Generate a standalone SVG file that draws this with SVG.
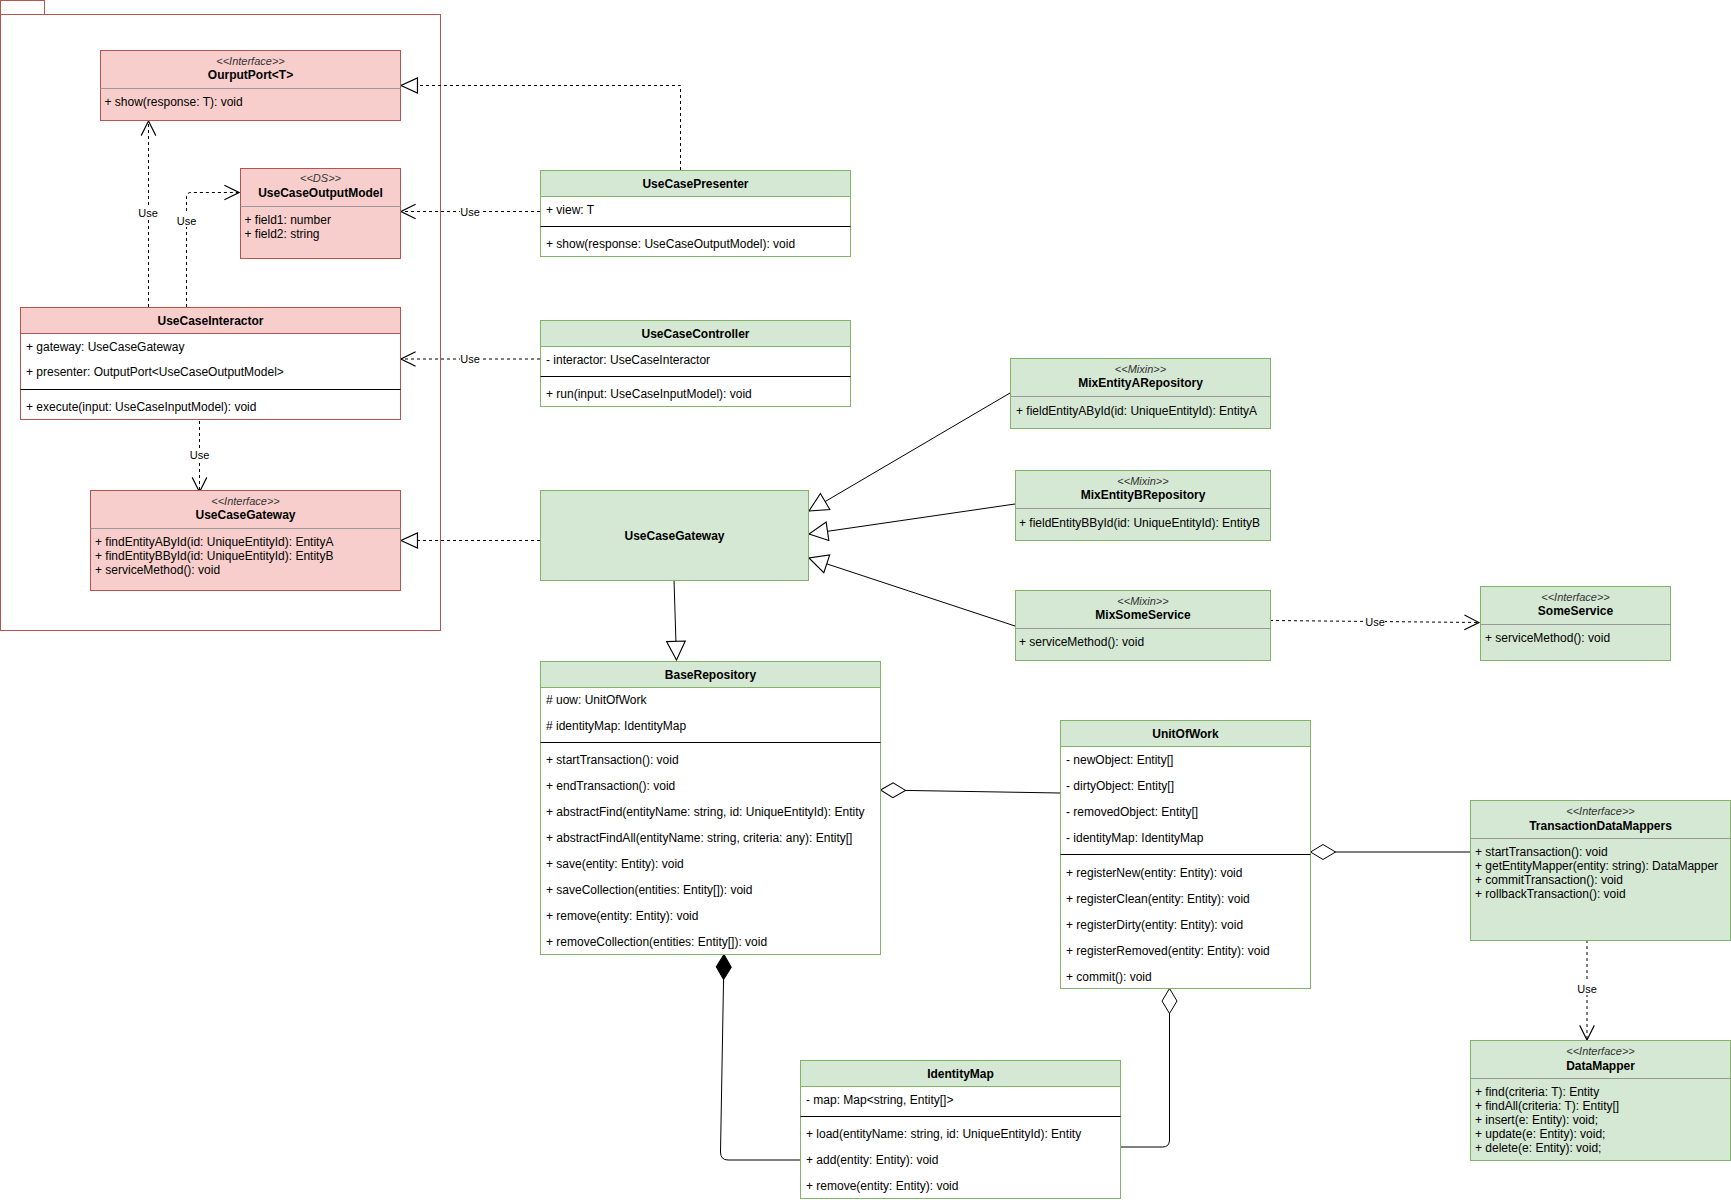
<svg xmlns="http://www.w3.org/2000/svg" width="1731" height="1202" viewBox="0 0 1731 1202">
<style>
text{font-family:"Liberation Sans",Arial,Helvetica,sans-serif;font-size:12px;fill:#000}
.n{font-weight:bold;text-anchor:middle}
.s{font-style:italic;font-size:11px;text-anchor:middle;fill:#333}
.lbl{font-size:11px;text-anchor:middle}
.pink{fill:#f8cecc;stroke:#b85450}
.green{fill:#d5e8d4;stroke:#82b366}
.wr{fill:#fff;stroke:#b85450}
.wg{fill:#fff;stroke:#82b366}
.sep{stroke:#999;stroke-width:1}
.blk{stroke:#000;stroke-width:1}
.ln{fill:none;stroke:#000;stroke-width:1}
.d{stroke-dasharray:3 3}
.lb{fill:#fff}
</style>
<defs>
<marker id="triS" markerUnits="userSpaceOnUse" markerWidth="20" markerHeight="20" viewBox="-16 -8 17 16" refX="0" refY="0" orient="auto"><path d="M0,0 L-14,-6.5 L-14,6.5 Z" fill="#fff" stroke="#000" stroke-dasharray="none"/></marker>
<marker id="triB" markerUnits="userSpaceOnUse" markerWidth="22" markerHeight="22" viewBox="-19 -10 20 20" refX="0" refY="0" orient="auto"><path d="M0,0 L-17,-8.5 L-17,8.5 Z" fill="#fff" stroke="#000" stroke-dasharray="none"/></marker>
<marker id="open" markerUnits="userSpaceOnUse" markerWidth="18" markerHeight="18" viewBox="-15 -8 16 16" refX="0" refY="0" orient="auto"><path d="M-13,-6.5 L0,0 L-13,6.5" fill="none" stroke="#000" stroke-dasharray="none"/></marker>
<marker id="dia" markerUnits="userSpaceOnUse" markerWidth="28" markerHeight="18" viewBox="-1 -9 28 18" refX="0" refY="0" orient="auto"><path d="M0,0 L12.5,-7.5 L25,0 L12.5,7.5 Z" fill="#fff" stroke="#000" stroke-dasharray="none"/></marker>
<marker id="diaF" markerUnits="userSpaceOnUse" markerWidth="28" markerHeight="18" viewBox="-1 -9 28 18" refX="0" refY="0" orient="auto"><path d="M0,0 L12.5,-7.5 L25,0 L12.5,7.5 Z" fill="#000" stroke="#000" stroke-dasharray="none"/></marker>
</defs>
<rect width="1731" height="1202" fill="#fff"/>

<g id="package">
<rect x="0.5" y="0.5" width="44" height="14" fill="#fff" stroke="#b85450"/>
<rect x="0.5" y="14.5" width="440" height="616" fill="#fff" stroke="#b85450"/>
</g>

<g id="connectors">
<path class="ln d" d="M680.5,170 V85.5 H401" marker-end="url(#triS)"/>
<path class="ln d" d="M540,211.5 H401" marker-end="url(#open)"/>
<path class="ln d" d="M540,359 H401" marker-end="url(#open)"/>
<path class="ln d" d="M148.5,307 V121" marker-end="url(#open)"/>
<path class="ln d" d="M186.5,307 V197 Q186.5,192.5 191,192.5 H239" marker-end="url(#open)"/>
<path class="ln d" d="M199.5,415 V492" marker-end="url(#open)"/>
<path class="ln d" d="M540,540.5 H401" marker-end="url(#triS)"/>
<path class="ln" d="M1010,393 L809,511" marker-end="url(#triB)"/>
<path class="ln" d="M1015,504 L809,534" marker-end="url(#triB)"/>
<path class="ln" d="M1015,626 L809,558" marker-end="url(#triB)"/>
<path class="ln d" d="M1270,620.5 L1479,622.5" marker-end="url(#open)"/>
<path class="ln" d="M674,580 L676.5,660" marker-end="url(#triB)"/>
<path class="ln" d="M880.5,790 L1060,793" marker-start="url(#dia)"/>
<path class="ln" d="M1310.5,852 H1470" marker-start="url(#dia)"/>
<path class="ln d" d="M1587,940 V1040" marker-end="url(#open)"/>
<path class="ln" d="M724,954.5 L720.5,1152 Q720.5,1160 728,1160 H800" marker-start="url(#diaF)"/>
<path class="ln" d="M1169.5,988.5 V1140 Q1169.5,1147 1162.5,1147 H1120" marker-start="url(#dia)"/>
<rect class="lb" x="460" y="205" width="20" height="13"/><text class="lbl" x="470" y="215.5">Use</text>
<rect class="lb" x="460" y="352" width="20" height="13"/><text class="lbl" x="470" y="363">Use</text>
<rect class="lb" x="138" y="206" width="20" height="13"/><text class="lbl" x="148" y="217">Use</text>
<rect class="lb" x="176" y="214" width="20" height="13"/><text class="lbl" x="186.5" y="225">Use</text>
<rect class="lb" x="189" y="448" width="20" height="13"/><text class="lbl" x="199.5" y="459">Use</text>
<rect class="lb" x="1366" y="615" width="19" height="13"/><text class="lbl" x="1375" y="625.5">Use</text>
<rect class="lb" x="1577" y="982" width="20" height="13"/><text class="lbl" x="1587" y="993">Use</text>
</g>

<g id="OurputPort">
<rect class="pink" x="100.5" y="50.5" width="300" height="70"/>
<line class="sep" x1="100.5" y1="88.5" x2="400.5" y2="88.5"/>
<text class="s" x="250.5" y="64.5">&lt;&lt;Interface&gt;&gt;</text>
<text class="n" x="250.5" y="78.5">OurputPort&lt;T&gt;</text>
<text x="104.5" y="106">+ show(response: T): void</text>
</g>

<g id="UseCaseOutputModel">
<rect class="pink" x="240.5" y="168.5" width="160" height="90"/>
<line class="sep" x1="240.5" y1="206.5" x2="400.5" y2="206.5"/>
<text class="s" x="320.5" y="182">&lt;&lt;DS&gt;&gt;</text>
<text class="n" x="320.5" y="197">UseCaseOutputModel</text>
<text x="244.5" y="224">+ field1: number</text>
<text x="244.5" y="238">+ field2: string</text>
</g>

<g id="UseCaseInteractor">
<rect class="wr" x="20.5" y="307.5" width="380" height="112"/>
<rect class="pink" x="20.5" y="307.5" width="380" height="26"/>
<text class="n" x="210.5" y="325">UseCaseInteractor</text>
<text x="26" y="350.5">+ gateway: UseCaseGateway</text>
<text x="26" y="376">+ presenter: OutputPort&lt;UseCaseOutputModel&gt;</text>
<line class="blk" x1="20.5" y1="389.5" x2="400.5" y2="389.5"/>
<text x="26" y="410.5">+ execute(input: UseCaseInputModel): void</text>
</g>

<g id="UseCaseGatewayInterface">
<rect class="pink" x="90.5" y="490.5" width="310" height="100"/>
<line class="sep" x1="90.5" y1="528.5" x2="400.5" y2="528.5"/>
<text class="s" x="245.5" y="504.5">&lt;&lt;Interface&gt;&gt;</text>
<text class="n" x="245.5" y="519">UseCaseGateway</text>
<text x="95" y="546">+ findEntityAById(id: UniqueEntityId): EntityA</text>
<text x="95" y="560">+ findEntityBById(id: UniqueEntityId): EntityB</text>
<text x="95" y="574">+ serviceMethod(): void</text>
</g>

<g id="UseCasePresenter">
<rect class="wg" x="540.5" y="170.5" width="310" height="86"/>
<rect class="green" x="540.5" y="170.5" width="310" height="26"/>
<text class="n" x="695.5" y="188">UseCasePresenter</text>
<text x="546" y="214">+ view: T</text>
<line class="blk" x1="540.5" y1="226.5" x2="850.5" y2="226.5"/>
<text x="546" y="247.5">+ show(response: UseCaseOutputModel): void</text>
</g>

<g id="UseCaseController">
<rect class="wg" x="540.5" y="320.5" width="310" height="86"/>
<rect class="green" x="540.5" y="320.5" width="310" height="26"/>
<text class="n" x="695.5" y="338">UseCaseController</text>
<text x="546" y="363.5">- interactor: UseCaseInteractor</text>
<line class="blk" x1="540.5" y1="376.5" x2="850.5" y2="376.5"/>
<text x="546" y="397.5">+ run(input: UseCaseInputModel): void</text>
</g>

<g id="UseCaseGateway">
<rect class="green" x="540.5" y="490.5" width="268" height="90"/>
<text class="n" x="674.5" y="540">UseCaseGateway</text>
</g>

<g id="MixEntityARepository">
<rect class="green" x="1010.5" y="358.5" width="260" height="70"/>
<line class="sep" x1="1010.5" y1="396.5" x2="1270.5" y2="396.5"/>
<text class="s" x="1140.5" y="372.5">&lt;&lt;Mixin&gt;&gt;</text>
<text class="n" x="1140.5" y="387">MixEntityARepository</text>
<text x="1016" y="414.5">+ fieldEntityAById(id: UniqueEntityId): EntityA</text>
</g>

<g id="MixEntityBRepository">
<rect class="green" x="1015.5" y="470.5" width="255" height="70"/>
<line class="sep" x1="1015.5" y1="508.5" x2="1270.5" y2="508.5"/>
<text class="s" x="1143" y="484.5">&lt;&lt;Mixin&gt;&gt;</text>
<text class="n" x="1143" y="499">MixEntityBRepository</text>
<text x="1019" y="526.5">+ fieldEntityBById(id: UniqueEntityId): EntityB</text>
</g>

<g id="MixSomeService">
<rect class="green" x="1015.5" y="590.5" width="255" height="70"/>
<line class="sep" x1="1015.5" y1="628.5" x2="1270.5" y2="628.5"/>
<text class="s" x="1143" y="604.5">&lt;&lt;Mixin&gt;&gt;</text>
<text class="n" x="1143" y="619">MixSomeService</text>
<text x="1019" y="646">+ serviceMethod(): void</text>
</g>

<g id="SomeService">
<rect class="green" x="1480.5" y="586.5" width="190" height="74"/>
<line class="sep" x1="1480.5" y1="624.5" x2="1670.5" y2="624.5"/>
<text class="s" x="1575.5" y="600.5">&lt;&lt;Interface&gt;&gt;</text>
<text class="n" x="1575.5" y="615">SomeService</text>
<text x="1485" y="642">+ serviceMethod(): void</text>
</g>

<g id="BaseRepository">
<rect class="wg" x="540.5" y="661.5" width="340" height="293"/>
<rect class="green" x="540.5" y="661.5" width="340" height="26"/>
<text class="n" x="710.5" y="678.5">BaseRepository</text>
<text x="546" y="704"># uow: UnitOfWork</text>
<text x="546" y="730"># identityMap: IdentityMap</text>
<line class="blk" x1="540.5" y1="742.5" x2="880.5" y2="742.5"/>
<text x="546" y="764">+ startTransaction(): void</text>
<text x="546" y="790">+ endTransaction(): void</text>
<text x="546" y="816">+ abstractFind(entityName: string, id: UniqueEntityId): Entity</text>
<text x="546" y="842">+ abstractFindAll(entityName: string, criteria: any): Entity[]</text>
<text x="546" y="868">+ save(entity: Entity): void</text>
<text x="546" y="894">+ saveCollection(entities: Entity[]): void</text>
<text x="546" y="920">+ remove(entity: Entity): void</text>
<text x="546" y="946">+ removeCollection(entities: Entity[]): void</text>
</g>

<g id="UnitOfWork">
<rect class="wg" x="1060.5" y="720.5" width="250" height="268"/>
<rect class="green" x="1060.5" y="720.5" width="250" height="26"/>
<text class="n" x="1185.5" y="738">UnitOfWork</text>
<text x="1066" y="764">- newObject: Entity[]</text>
<text x="1066" y="790">- dirtyObject: Entity[]</text>
<text x="1066" y="816">- removedObject: Entity[]</text>
<text x="1066" y="842">- identityMap: IdentityMap</text>
<line class="blk" x1="1060.5" y1="854.5" x2="1310.5" y2="854.5"/>
<text x="1066" y="876.5">+ registerNew(entity: Entity): void</text>
<text x="1066" y="902.5">+ registerClean(entity: Entity): void</text>
<text x="1066" y="928.5">+ registerDirty(entity: Entity): void</text>
<text x="1066" y="954.5">+ registerRemoved(entity: Entity): void</text>
<text x="1066" y="980.5">+ commit(): void</text>
</g>

<g id="TransactionDataMappers">
<rect class="green" x="1470.5" y="800.5" width="260" height="140"/>
<line class="sep" x1="1470.5" y1="838.5" x2="1730.5" y2="838.5"/>
<text class="s" x="1600.5" y="815">&lt;&lt;Interface&gt;&gt;</text>
<text class="n" x="1600.5" y="829.5">TransactionDataMappers</text>
<text x="1475" y="856">+ startTransaction(): void</text>
<text x="1475" y="870">+ getEntityMapper(entity: string): DataMapper</text>
<text x="1475" y="884">+ commitTransaction(): void</text>
<text x="1475" y="898">+ rollbackTransaction(): void</text>
</g>

<g id="DataMapper">
<rect class="green" x="1470.5" y="1040.5" width="260" height="120"/>
<line class="sep" x1="1470.5" y1="1078.5" x2="1730.5" y2="1078.5"/>
<text class="s" x="1600.5" y="1055">&lt;&lt;Interface&gt;&gt;</text>
<text class="n" x="1600.5" y="1069.5">DataMapper</text>
<text x="1475" y="1096">+ find(criteria: T): Entity</text>
<text x="1475" y="1110">+ findAll(criteria: T): Entity[]</text>
<text x="1475" y="1124">+ insert(e: Entity): void;</text>
<text x="1475" y="1138">+ update(e: Entity): void;</text>
<text x="1475" y="1152">+ delete(e: Entity): void;</text>
</g>

<g id="IdentityMap">
<rect class="wg" x="800.5" y="1060.5" width="320" height="138"/>
<rect class="green" x="800.5" y="1060.5" width="320" height="26"/>
<text class="n" x="960.5" y="1078">IdentityMap</text>
<text x="806" y="1104">- map: Map&lt;string, Entity[]&gt;</text>
<line class="blk" x1="800.5" y1="1116.5" x2="1120.5" y2="1116.5"/>
<text x="806" y="1138">+ load(entityName: string, id: UniqueEntityId): Entity</text>
<text x="806" y="1164">+ add(entity: Entity): void</text>
<text x="806" y="1190">+ remove(entity: Entity): void</text>
</g>
</svg>
